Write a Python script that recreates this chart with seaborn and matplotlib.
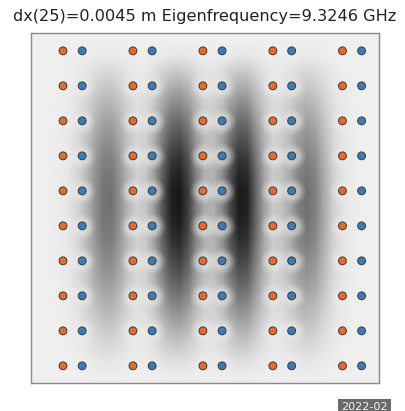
import numpy as np
import pandas as pd
import matplotlib
matplotlib.use("Agg")
import matplotlib.pyplot as plt
from matplotlib.colors import LinearSegmentedColormap
import seaborn as sns

sns.set_theme(style="white")
plt.rcParams["font.family"] = ["DejaVu Sans"]

# Field magnitude across the cavity (x from 0 to 10, step 0.25)
x_profile = [0.00, 0.00, 0.01, 0.02, 0.05, 0.12, 0.25, 0.42, 0.55, 0.56,
             0.42, 0.25, 0.15, 0.18, 0.38, 0.68, 0.92, 0.97, 0.80, 0.50,
             0.30, 0.28, 0.45, 0.75, 0.95, 0.92, 0.62, 0.35, 0.18, 0.20,
             0.32, 0.50, 0.57, 0.50, 0.32, 0.16, 0.07, 0.03, 0.01, 0.00,
             0.00]
# Vertical envelope, listed from top (y=10) to bottom (y=0), step 0.5
y_envelope = [0.00, 0.05, 0.20, 0.35, 0.50, 0.64, 0.76, 0.87, 0.95, 1.00,
              1.00, 0.97, 0.91, 0.82, 0.72, 0.60, 0.47, 0.34, 0.21, 0.10,
              0.02]

# Scatterer positions (two sub-lattices)
orange_x = [0.92, 2.93, 4.94, 6.95, 8.95]
blue_x = [1.47, 3.48, 5.49, 7.49, 9.50]
rows_y = [0.49, 1.49, 2.49, 3.49, 4.49, 5.49, 6.49, 7.49, 8.49, 9.49]

title = "dx(25)=0.0045 m Eigenfrequency=9.3246 GHz"
stamp = "2022-02"

field = np.outer(np.array(y_envelope), np.array(x_profile))

points = pd.DataFrame(
    [(x, y, "A") for x in orange_x for y in rows_y]
    + [(x, y, "B") for x in blue_x for y in rows_y],
    columns=["x", "y", "site"],
)

bg = "#efefef"
cmap = LinearSegmentedColormap.from_list("field", [bg, "#101010"])

fig = plt.figure(figsize=(4.05, 4.11), dpi=100)
ax = fig.add_axes([31 / 405, 28 / 411, 348 / 405, 350 / 411])

ax.imshow(field, cmap=cmap, vmin=0, vmax=1, extent=(0, 10, 0, 10),
          origin="upper", aspect="auto", interpolation="bilinear", zorder=0)

# soft clearing of the field around each scatterer
for s, a in [(360, 0.12), (240, 0.2), (140, 0.3)]:
    ax.scatter(points["x"], points["y"], s=s, color=bg, alpha=a,
               linewidths=0, zorder=1)

sns.scatterplot(data=points, x="x", y="y", hue="site",
                palette={"A": "#e56b2b", "B": "#3b7cb8"},
                s=32, edgecolor="#3a3a3a", linewidth=0.7,
                legend=False, ax=ax, zorder=2)

ax.set_xlim(0, 10)
ax.set_ylim(0, 10)
ax.set_xticks([])
ax.set_yticks([])
ax.set_xlabel("")
ax.set_ylabel("")
for sp in ax.spines.values():
    sp.set_visible(True)
    sp.set_color("#8a8a8a")
    sp.set_linewidth(1.0)

ax.set_title(title, fontsize=11.6, pad=9, color="#222222")

fig.text(341 / 405, 1.0 / 411, stamp, fontsize=8, color="#f2f2f2",
         ha="left", va="baseline",
         bbox=dict(boxstyle="square,pad=0.3", facecolor="#6a6a6a",
                   edgecolor="none"))

fig.savefig("out.png", dpi=100)
